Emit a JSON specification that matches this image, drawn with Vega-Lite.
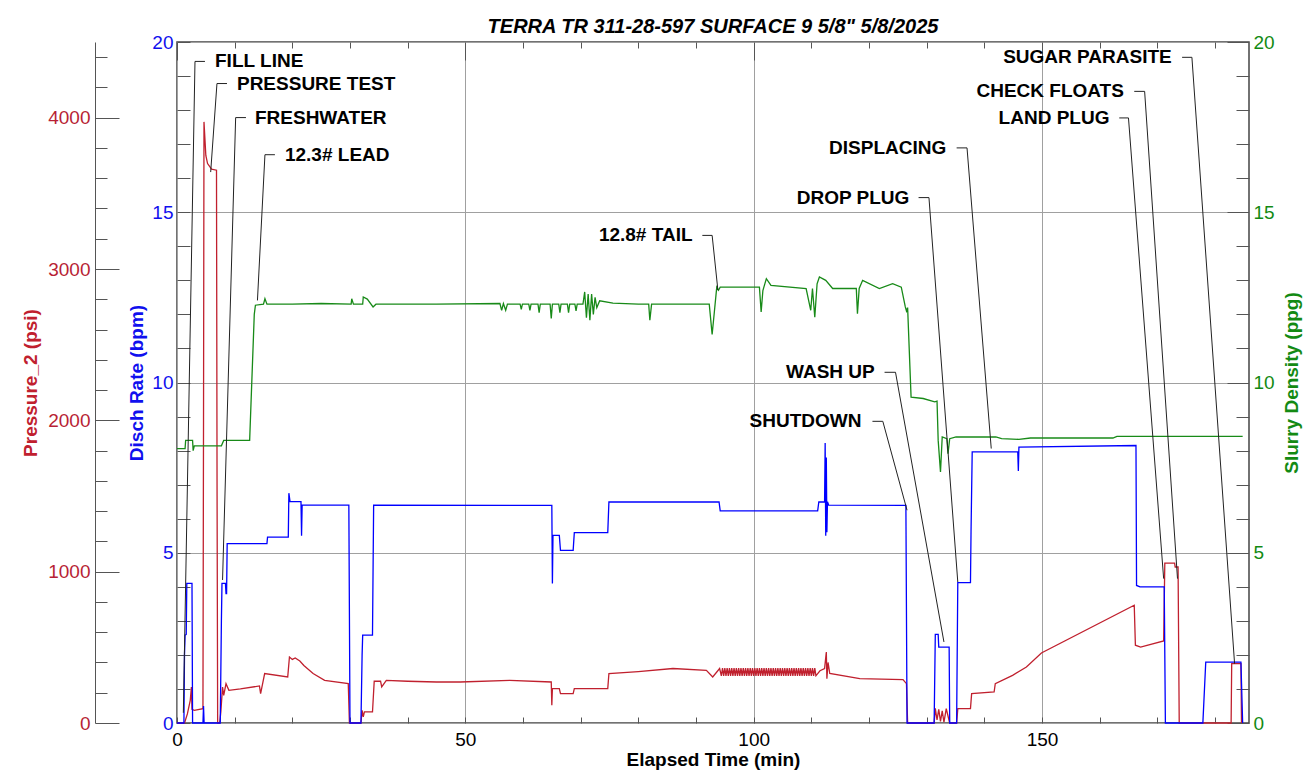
{
  "$schema": "https://vega.github.io/schema/vega-lite/v6.json",
  "description": "Cement job chart: discharge rate, pressure and slurry density against elapsed time, with event labels.",
  "autosize": {"type": "none"},
  "padding": {"left": 177, "top": 42, "right": 65, "bottom": 56},
  "width": 1072,
  "height": 681,
  "background": "white",
  "title": {
    "text": "TERRA TR 311-28-597 SURFACE 9 5/8\" 5/8/2025",
    "font": "Liberation Sans",
    "fontSize": 20,
    "fontWeight": "bold",
    "fontStyle": "italic",
    "color": "black",
    "anchor": "middle",
    "offset": -4
  },
  "config": {
    "view": {"stroke": "#444444", "strokeWidth": 1.5},
    "axis": {
      "labelFont": "Liberation Sans",
      "titleFont": "Liberation Sans",
      "labelFontSize": 19,
      "titleFontSize": 19,
      "titleFontWeight": "bold",
      "labelFlush": false,
      "labelOverlap": false,
      "domainColor": "#555555",
      "tickColor": "#555555",
      "gridColor": "#a0a0a0",
      "gridWidth": 1,
      "grid": false
    }
  },
  "datasets": {
    "host": [{"t": 0, "v": 0}],
    "rate": [
      {"t": 0, "v": 0}, {"t": 1.2, "v": 0}, {"t": 1.3, "v": 2.0}, {"t": 1.4, "v": 2.58}, {"t": 1.6, "v": 2.6},
      {"t": 1.7, "v": 4.1}, {"t": 2.6, "v": 4.1}, {"t": 2.7, "v": 0}, {"t": 4.5, "v": 0}, {"t": 4.6, "v": 0.5},
      {"t": 4.7, "v": 0}, {"t": 7.5, "v": 0}, {"t": 7.7, "v": 3.0}, {"t": 7.8, "v": 4.1}, {"t": 8.4, "v": 4.1},
      {"t": 8.5, "v": 3.8}, {"t": 8.6, "v": 3.8}, {"t": 8.7, "v": 5.27}, {"t": 15.6, "v": 5.27}, {"t": 15.7, "v": 5.46},
      {"t": 19.3, "v": 5.46}, {"t": 19.4, "v": 6.75}, {"t": 19.6, "v": 6.5}, {"t": 21.5, "v": 6.5}, {"t": 21.6, "v": 5.5},
      {"t": 21.7, "v": 6.4}, {"t": 29.8, "v": 6.4}, {"t": 30.0, "v": 0}, {"t": 31.9, "v": 0}, {"t": 32.1, "v": 2.0},
      {"t": 32.2, "v": 2.58}, {"t": 33.9, "v": 2.58}, {"t": 34.1, "v": 6.4}, {"t": 65.0, "v": 6.39}, {"t": 65.1, "v": 4.1},
      {"t": 65.2, "v": 5.51}, {"t": 66.3, "v": 5.51}, {"t": 66.5, "v": 5.07}, {"t": 68.7, "v": 5.07}, {"t": 68.9, "v": 5.59},
      {"t": 74.7, "v": 5.59}, {"t": 74.9, "v": 6.49}, {"t": 94.0, "v": 6.49}, {"t": 94.2, "v": 6.23}, {"t": 111.1, "v": 6.23},
      {"t": 111.3, "v": 6.49}, {"t": 112.3, "v": 6.49}, {"t": 112.4, "v": 8.22}, {"t": 112.5, "v": 5.5}, {"t": 112.6, "v": 7.8},
      {"t": 112.7, "v": 5.6}, {"t": 112.8, "v": 6.5}, {"t": 113.0, "v": 6.4}, {"t": 126.4, "v": 6.39}, {"t": 126.6, "v": 0},
      {"t": 131.3, "v": 0}, {"t": 131.5, "v": 2.6}, {"t": 132.0, "v": 2.6}, {"t": 132.1, "v": 2.23}, {"t": 133.9, "v": 2.23},
      {"t": 134.0, "v": 0}, {"t": 135.2, "v": 0}, {"t": 135.4, "v": 4.12}, {"t": 137.6, "v": 4.12}, {"t": 137.7, "v": 5.66},
      {"t": 137.9, "v": 7.96}, {"t": 145.8, "v": 7.96}, {"t": 145.9, "v": 7.4}, {"t": 146.0, "v": 8.1}, {"t": 166.3, "v": 8.15},
      {"t": 166.4, "v": 4.04}, {"t": 167.0, "v": 4.0}, {"t": 171.2, "v": 4.0}, {"t": 171.4, "v": 0}, {"t": 177.9, "v": 0},
      {"t": 178.4, "v": 1.79}, {"t": 184.5, "v": 1.79}, {"t": 184.8, "v": 0}
    ],
    "press": [
      {"t": 0, "p": 0}, {"t": 1.3, "p": 0}, {"t": 1.8, "p": 60}, {"t": 2.3, "p": 150}, {"t": 2.5, "p": 238},
      {"t": 2.6, "p": 90}, {"t": 3.0, "p": 84}, {"t": 4.5, "p": 95}, {"t": 4.6, "p": 2000}, {"t": 4.68, "p": 3972},
      {"t": 5.0, "p": 3750}, {"t": 5.3, "p": 3697}, {"t": 6.0, "p": 3660}, {"t": 6.85, "p": 3653}, {"t": 6.95, "p": 1500},
      {"t": 7.05, "p": 0}, {"t": 7.4, "p": 0}, {"t": 7.6, "p": 73}, {"t": 7.9, "p": 238}, {"t": 8.1, "p": 183},
      {"t": 8.5, "p": 260}, {"t": 9.0, "p": 216}, {"t": 11.0, "p": 225}, {"t": 14.3, "p": 245}, {"t": 14.5, "p": 194},
      {"t": 15.2, "p": 327}, {"t": 19.2, "p": 304}, {"t": 19.5, "p": 436}, {"t": 20.0, "p": 420}, {"t": 20.5, "p": 430},
      {"t": 21.3, "p": 410}, {"t": 22.0, "p": 380}, {"t": 23.6, "p": 327}, {"t": 25.6, "p": 282}, {"t": 29.7, "p": 260},
      {"t": 29.9, "p": 0}, {"t": 31.9, "p": 0}, {"t": 32.1, "p": 84}, {"t": 32.3, "p": 40}, {"t": 32.5, "p": 73},
      {"t": 33.9, "p": 73}, {"t": 34.2, "p": 276}, {"t": 35.3, "p": 276}, {"t": 35.5, "p": 238}, {"t": 36.3, "p": 282},
      {"t": 40, "p": 276}, {"t": 45, "p": 271}, {"t": 49.1, "p": 271}, {"t": 57.7, "p": 282}, {"t": 64.9, "p": 271},
      {"t": 65.0, "p": 117}, {"t": 65.1, "p": 227}, {"t": 66.3, "p": 227}, {"t": 66.5, "p": 194}, {"t": 68.7, "p": 194},
      {"t": 68.9, "p": 227}, {"t": 74.7, "p": 227}, {"t": 74.9, "p": 327}, {"t": 80, "p": 340}, {"t": 86.0, "p": 360},
      {"t": 91.8, "p": 348}, {"t": 92.9, "p": 304}, {"t": 94.1, "p": 360},
      {"t": 94.4, "p": 312}, {"t": 94.6, "p": 362}, {"t": 94.8, "p": 312}, {"t": 95.0, "p": 362}, {"t": 95.2, "p": 312},
      {"t": 95.4, "p": 362}, {"t": 95.6, "p": 312}, {"t": 95.8, "p": 362}, {"t": 96.0, "p": 312}, {"t": 96.2, "p": 362},
      {"t": 96.4, "p": 312}, {"t": 96.6, "p": 362}, {"t": 96.8, "p": 312}, {"t": 97.0, "p": 362}, {"t": 97.2, "p": 312},
      {"t": 97.4, "p": 362}, {"t": 97.6, "p": 312}, {"t": 97.8, "p": 362}, {"t": 98.0, "p": 312}, {"t": 98.2, "p": 362},
      {"t": 98.4, "p": 312}, {"t": 98.6, "p": 362}, {"t": 98.8, "p": 312}, {"t": 99.0, "p": 362}, {"t": 99.2, "p": 312},
      {"t": 99.4, "p": 362}, {"t": 99.6, "p": 312}, {"t": 99.8, "p": 362}, {"t": 100.0, "p": 312}, {"t": 100.2, "p": 362},
      {"t": 100.4, "p": 312}, {"t": 100.6, "p": 362}, {"t": 100.8, "p": 312}, {"t": 101.0, "p": 362}, {"t": 101.2, "p": 312},
      {"t": 101.4, "p": 362}, {"t": 101.6, "p": 312}, {"t": 101.8, "p": 362}, {"t": 102.0, "p": 312}, {"t": 102.2, "p": 362},
      {"t": 102.4, "p": 312}, {"t": 102.6, "p": 362}, {"t": 102.8, "p": 312}, {"t": 103.0, "p": 362}, {"t": 103.2, "p": 312},
      {"t": 103.4, "p": 362}, {"t": 103.6, "p": 312}, {"t": 103.8, "p": 362}, {"t": 104.0, "p": 312}, {"t": 104.2, "p": 362},
      {"t": 104.4, "p": 312}, {"t": 104.6, "p": 362}, {"t": 104.8, "p": 312}, {"t": 105.0, "p": 362}, {"t": 105.2, "p": 312},
      {"t": 105.4, "p": 362}, {"t": 105.6, "p": 312}, {"t": 105.8, "p": 362}, {"t": 106.0, "p": 312}, {"t": 106.2, "p": 362},
      {"t": 106.4, "p": 312}, {"t": 106.6, "p": 362}, {"t": 106.8, "p": 312}, {"t": 107.0, "p": 362}, {"t": 107.2, "p": 312},
      {"t": 107.4, "p": 362}, {"t": 107.6, "p": 312}, {"t": 107.8, "p": 362}, {"t": 108.0, "p": 312}, {"t": 108.2, "p": 362},
      {"t": 108.4, "p": 312}, {"t": 108.6, "p": 362}, {"t": 108.8, "p": 312}, {"t": 109.0, "p": 362}, {"t": 109.2, "p": 312},
      {"t": 109.4, "p": 362}, {"t": 109.6, "p": 312}, {"t": 109.8, "p": 362}, {"t": 110.0, "p": 312}, {"t": 110.2, "p": 362},
      {"t": 110.4, "p": 312}, {"t": 110.6, "p": 362}, {"t": 110.8, "p": 312},
      {"t": 111.5, "p": 345}, {"t": 112.3, "p": 360}, {"t": 112.6, "p": 469}, {"t": 112.7, "p": 293}, {"t": 112.9, "p": 400},
      {"t": 113.2, "p": 327}, {"t": 118.4, "p": 293}, {"t": 125.9, "p": 287}, {"t": 126.5, "p": 260}, {"t": 126.7, "p": 0},
      {"t": 131.3, "p": 0}, {"t": 131.5, "p": 97}, {"t": 131.8, "p": 20}, {"t": 132.1, "p": 90}, {"t": 132.4, "p": 10},
      {"t": 132.7, "p": 80}, {"t": 133.0, "p": 5}, {"t": 133.4, "p": 95}, {"t": 133.9, "p": 15}, {"t": 134.0, "p": 0},
      {"t": 135.2, "p": 0}, {"t": 135.4, "p": 95}, {"t": 137.6, "p": 95}, {"t": 137.8, "p": 194}, {"t": 141.7, "p": 205},
      {"t": 141.9, "p": 260}, {"t": 144.9, "p": 315}, {"t": 147.3, "p": 370}, {"t": 149.9, "p": 463}, {"t": 166.0, "p": 778},
      {"t": 166.2, "p": 514}, {"t": 167.1, "p": 502}, {"t": 171.1, "p": 542}, {"t": 171.3, "p": 1057}, {"t": 173.0, "p": 1057},
      {"t": 173.1, "p": 1031}, {"t": 173.6, "p": 1031}, {"t": 173.8, "p": 0}, {"t": 182.8, "p": 0}, {"t": 182.9, "p": 392},
      {"t": 184.5, "p": 392}, {"t": 184.6, "p": 0}
    ],
    "dens": [
      {"t": 0, "v": 8.06}, {"t": 1.4, "v": 8.06}, {"t": 1.5, "v": 8.3}, {"t": 2.7, "v": 8.3}, {"t": 2.8, "v": 8.0},
      {"t": 3.0, "v": 8.14}, {"t": 7.7, "v": 8.14}, {"t": 8.1, "v": 8.3}, {"t": 12.6, "v": 8.3}, {"t": 13.4, "v": 12.0},
      {"t": 13.6, "v": 12.27}, {"t": 15.0, "v": 12.3}, {"t": 15.25, "v": 12.46}, {"t": 15.6, "v": 12.3}, {"t": 20, "v": 12.3},
      {"t": 25, "v": 12.32}, {"t": 30.2, "v": 12.3}, {"t": 30.3, "v": 12.46}, {"t": 30.6, "v": 12.3}, {"t": 32.2, "v": 12.3},
      {"t": 32.3, "v": 12.51}, {"t": 33.0, "v": 12.45}, {"t": 34.0, "v": 12.22}, {"t": 34.5, "v": 12.3}, {"t": 45, "v": 12.3},
      {"t": 56, "v": 12.32}, {"t": 56.3, "v": 12.12}, {"t": 56.6, "v": 12.32}, {"t": 57, "v": 12.12}, {"t": 57.3, "v": 12.3},
      {"t": 59.5, "v": 12.3}, {"t": 59.7, "v": 12.15}, {"t": 59.9, "v": 12.3}, {"t": 61.0, "v": 12.3}, {"t": 61.2, "v": 12.12},
      {"t": 61.4, "v": 12.3}, {"t": 62.6, "v": 12.3}, {"t": 62.8, "v": 12.05}, {"t": 63.0, "v": 12.3}, {"t": 64.7, "v": 12.3},
      {"t": 64.9, "v": 11.88}, {"t": 65.1, "v": 12.3}, {"t": 66.2, "v": 12.3}, {"t": 66.4, "v": 12.05}, {"t": 66.6, "v": 12.3},
      {"t": 67.7, "v": 12.3}, {"t": 67.9, "v": 12.05}, {"t": 68.1, "v": 12.3}, {"t": 69.0, "v": 12.3}, {"t": 69.2, "v": 12.1},
      {"t": 69.4, "v": 12.3}, {"t": 70.4, "v": 12.3}, {"t": 70.7, "v": 12.66}, {"t": 71.0, "v": 11.9}, {"t": 71.3, "v": 12.6},
      {"t": 71.6, "v": 11.83}, {"t": 71.9, "v": 12.6}, {"t": 72.2, "v": 12.0}, {"t": 72.5, "v": 12.5}, {"t": 72.8, "v": 12.2},
      {"t": 73.3, "v": 12.4}, {"t": 75.6, "v": 12.33}, {"t": 80, "v": 12.3}, {"t": 81.8, "v": 12.3}, {"t": 82.0, "v": 11.83},
      {"t": 82.3, "v": 12.3}, {"t": 92.3, "v": 12.3}, {"t": 92.8, "v": 11.41}, {"t": 93.2, "v": 12.1}, {"t": 93.6, "v": 12.8},
      {"t": 93.9, "v": 12.71}, {"t": 94.2, "v": 12.8}, {"t": 101.0, "v": 12.8}, {"t": 101.3, "v": 12.07}, {"t": 101.6, "v": 12.7},
      {"t": 102.2, "v": 13.05}, {"t": 103, "v": 12.85}, {"t": 109.1, "v": 12.76}, {"t": 109.9, "v": 12.12}, {"t": 110.2, "v": 12.76},
      {"t": 110.6, "v": 11.92}, {"t": 111.0, "v": 12.9}, {"t": 111.4, "v": 13.1}, {"t": 112.5, "v": 13.0}, {"t": 113.7, "v": 12.76},
      {"t": 117.8, "v": 12.76}, {"t": 118.0, "v": 12.02}, {"t": 118.3, "v": 12.76}, {"t": 118.9, "v": 13.0}, {"t": 121.8, "v": 12.76},
      {"t": 124.1, "v": 12.9}, {"t": 125.6, "v": 12.8}, {"t": 126.3, "v": 12.22}, {"t": 126.5, "v": 12.1}, {"t": 126.7, "v": 12.2},
      {"t": 127.3, "v": 9.57}, {"t": 129.4, "v": 9.53}, {"t": 131.4, "v": 9.43}, {"t": 131.8, "v": 9.45}, {"t": 132.0, "v": 8.3},
      {"t": 132.4, "v": 7.37}, {"t": 132.7, "v": 8.4}, {"t": 133.5, "v": 8.35}, {"t": 133.7, "v": 7.91}, {"t": 134.0, "v": 8.35},
      {"t": 135.1, "v": 8.4}, {"t": 142, "v": 8.4}, {"t": 143, "v": 8.35}, {"t": 146, "v": 8.33}, {"t": 148, "v": 8.37},
      {"t": 162.3, "v": 8.37}, {"t": 163, "v": 8.42}, {"t": 184.8, "v": 8.42}
    ],
    "leaders": [
      {"label": "FILL LINE", "o": 1, "t": 4.85, "v": 19.43}, {"label": "FILL LINE", "o": 2, "t": 3.12, "v": 19.43}, {"label": "FILL LINE", "o": 3, "t": 1.1, "v": 0.3},
      {"label": "PRESSURE TEST", "o": 1, "t": 8.67, "v": 18.78}, {"label": "PRESSURE TEST", "o": 2, "t": 6.93, "v": 18.78}, {"label": "PRESSURE TEST", "o": 3, "t": 5.84, "v": 16.18},
      {"label": "FRESHWATER", "o": 1, "t": 11.96, "v": 17.78}, {"label": "FRESHWATER", "o": 2, "t": 10.17, "v": 17.78}, {"label": "FRESHWATER", "o": 3, "t": 7.9, "v": 4.2},
      {"label": "12.3# LEAD", "o": 1, "t": 16.98, "v": 16.69}, {"label": "12.3# LEAD", "o": 2, "t": 15.25, "v": 16.69}, {"label": "12.3# LEAD", "o": 3, "t": 13.95, "v": 12.41},
      {"label": "12.8# TAIL", "o": 1, "t": 91.1, "v": 14.32}, {"label": "12.8# TAIL", "o": 2, "t": 92.8, "v": 14.32}, {"label": "12.8# TAIL", "o": 3, "t": 93.8, "v": 12.71},
      {"label": "SHUTDOWN", "o": 1, "t": 120.6, "v": 8.86}, {"label": "SHUTDOWN", "o": 2, "t": 122.4, "v": 8.86}, {"label": "SHUTDOWN", "o": 3, "t": 126.6, "v": 6.25},
      {"label": "WASH UP", "o": 1, "t": 122.7, "v": 10.3}, {"label": "WASH UP", "o": 2, "t": 124.6, "v": 10.3}, {"label": "WASH UP", "o": 3, "t": 133.0, "v": 2.38},
      {"label": "DROP PLUG", "o": 1, "t": 128.6, "v": 15.43}, {"label": "DROP PLUG", "o": 2, "t": 130.4, "v": 15.43}, {"label": "DROP PLUG", "o": 3, "t": 135.4, "v": 4.14},
      {"label": "DISPLACING", "o": 1, "t": 135.2, "v": 16.89}, {"label": "DISPLACING", "o": 2, "t": 137.0, "v": 16.89}, {"label": "DISPLACING", "o": 3, "t": 141.2, "v": 8.06},
      {"label": "LAND PLUG", "o": 1, "t": 163.4, "v": 17.77}, {"label": "LAND PLUG", "o": 2, "t": 165.0, "v": 17.77}, {"label": "LAND PLUG", "o": 3, "t": 171.1, "v": 4.24},
      {"label": "CHECK FLOATS", "o": 1, "t": 166.0, "v": 18.55}, {"label": "CHECK FLOATS", "o": 2, "t": 167.8, "v": 18.55}, {"label": "CHECK FLOATS", "o": 3, "t": 173.5, "v": 4.24},
      {"label": "SUGAR PARASITE", "o": 1, "t": 174.3, "v": 19.55}, {"label": "SUGAR PARASITE", "o": 2, "t": 176.0, "v": 19.55}, {"label": "SUGAR PARASITE", "o": 3, "t": 183.4, "v": 1.74}
    ],
    "events": [
      {"label": "FILL LINE", "t": 6.59, "v": 19.43},
      {"label": "PRESSURE TEST", "t": 10.4, "v": 18.78},
      {"label": "FRESHWATER", "t": 13.52, "v": 17.78},
      {"label": "12.3# LEAD", "t": 18.72, "v": 16.69},
      {"label": "12.8# TAIL", "t": 89.4, "v": 14.32},
      {"label": "SHUTDOWN", "t": 118.7, "v": 8.86},
      {"label": "WASH UP", "t": 121.0, "v": 10.3},
      {"label": "DROP PLUG", "t": 127.0, "v": 15.43},
      {"label": "DISPLACING", "t": 133.4, "v": 16.89},
      {"label": "LAND PLUG", "t": 161.7, "v": 17.77},
      {"label": "CHECK FLOATS", "t": 164.2, "v": 18.55},
      {"label": "SUGAR PARASITE", "t": 172.5, "v": 19.55}
    ]
  },
  "layer": [
    {
      "data": {"name": "press"},
      "mark": {"type": "line", "color": "#c0202e", "strokeWidth": 1.3},
      "encoding": {
        "x": {"field": "t", "type": "quantitative", "scale": {"domain": [0, 185.9], "nice": false, "zero": false}, "axis": null},
        "y": {
          "field": "p", "type": "quantitative",
          "scale": {"domain": [0, 4500], "nice": false},
          "axis": {
            "orient": "left", "offset": 82, "values": [0, 1000, 2000, 3000, 4000], "format": "d",
            "ticks": false, "domain": true, "labelColor": "#b81f35", "labelPadding": 5,
            "title": "Pressure_2 (psi)", "titleColor": "#c0202e", "titlePadding": 7
          }
        }
      }
    },
    {
      "data": {"name": "host"},
      "mark": {"type": "point", "opacity": 0},
      "encoding": {
        "x": {"field": "t", "type": "quantitative", "scale": {"domain": [0, 185.9], "nice": false, "zero": false}, "axis": null},
        "y": {
          "field": "v", "type": "quantitative",
          "scale": {"domain": [0, 4500], "nice": false},
          "axis": {
            "orient": "left", "offset": 82,
            "values": [0, 200, 400, 600, 800, 1000, 1200, 1400, 1600, 1800, 2000, 2200, 2400, 2600, 2800, 3000, 3200, 3400, 3600, 3800, 4000, 4200, 4400],
            "labels": false, "domain": false, "title": null,
            "tickSize": {"condition": {"test": "datum.value % 1000 === 0", "value": -24}, "value": -12}
          }
        }
      }
    },
    {
      "data": {"name": "rate"},
      "mark": {"type": "line", "color": "#0000ff", "strokeWidth": 1.3},
      "encoding": {
        "x": {
          "field": "t", "type": "quantitative",
          "scale": {"domain": [0, 185.9], "nice": false, "zero": false},
          "axis": {
            "orient": "bottom", "values": [0, 50, 100, 150], "ticks": false, "domain": false,
            "grid": true, "labelPadding": 7, "labelColor": "black",
            "title": "Elapsed Time (min)", "titleColor": "black", "titlePadding": 1
          }
        },
        "y": {
          "field": "v", "type": "quantitative",
          "scale": {"domain": [0, 20], "nice": false},
          "axis": {
            "orient": "left", "values": [0, 5, 10, 15, 20], "ticks": false, "domain": false,
            "grid": true, "labelColor": "#1010ee", "labelPadding": 4,
            "title": "Disch Rate (bpm)", "titleColor": "#1010ee", "titlePadding": 5
          }
        }
      }
    },
    {
      "data": {"name": "host"},
      "mark": {"type": "point", "opacity": 0},
      "encoding": {
        "x": {
          "field": "t", "type": "quantitative",
          "scale": {"domain": [0, 185.9], "nice": false, "zero": false},
          "axis": {
            "orient": "bottom", "values": [0, 10, 20, 30, 40, 50, 60, 70, 80, 90, 100, 110, 120, 130, 140, 150, 160, 170, 180],
            "tickSize": -6, "labels": false, "domain": false, "title": null
          }
        },
        "y": {
          "field": "v", "type": "quantitative",
          "scale": {"domain": [0, 20], "nice": false},
          "axis": {
            "orient": "left", "values": [0, 1, 2, 3, 4, 5, 6, 7, 8, 9, 10, 11, 12, 13, 14, 15, 16, 17, 18, 19, 20],
            "tickSize": -13, "labels": false, "domain": false, "title": null
          }
        }
      }
    },
    {
      "data": {"name": "dens"},
      "mark": {"type": "line", "color": "#188a18", "strokeWidth": 1.3},
      "encoding": {
        "x": {
          "field": "t", "type": "quantitative",
          "scale": {"domain": [0, 185.9], "nice": false, "zero": false},
          "axis": {
            "orient": "top", "values": [0, 10, 20, 30, 40, 50, 60, 70, 80, 90, 100, 110, 120, 130, 140, 150, 160, 170, 180],
            "tickSize": {"condition": {"test": "datum.value % 50 === 0", "value": -18}, "value": -6},
            "labels": false, "domain": false, "title": null
          }
        },
        "y": {
          "field": "v", "type": "quantitative",
          "scale": {"domain": [0, 20], "nice": false},
          "axis": {
            "orient": "right", "values": [0, 5, 10, 15, 20], "ticks": false, "domain": false,
            "labelColor": "#138a13", "labelPadding": 4,
            "title": "Slurry Density (ppg)", "titleColor": "#138a13", "titlePadding": 8,
            "titleAngle": 270, "titleBaseline": "top"
          }
        }
      }
    },
    {
      "data": {"name": "host"},
      "mark": {"type": "point", "opacity": 0},
      "encoding": {
        "x": {"field": "t", "type": "quantitative", "scale": {"domain": [0, 185.9], "nice": false, "zero": false}, "axis": null},
        "y": {
          "field": "v", "type": "quantitative",
          "scale": {"domain": [0, 20], "nice": false},
          "axis": {
            "orient": "right", "values": [0, 1, 2, 3, 4, 5, 6, 7, 8, 9, 10, 11, 12, 13, 14, 15, 16, 17, 18, 19, 20],
            "tickSize": {"condition": {"test": "datum.value % 5 === 0", "value": -22}, "value": -13},
            "labels": false, "domain": false, "title": null
          }
        }
      }
    },
    {
      "data": {"name": "leaders"},
      "mark": {"type": "line", "color": "#222222", "strokeWidth": 1},
      "encoding": {
        "x": {"field": "t", "type": "quantitative", "scale": {"domain": [0, 185.9], "nice": false, "zero": false}, "axis": null},
        "y": {"field": "v", "type": "quantitative", "scale": {"domain": [0, 20], "nice": false}, "axis": null},
        "detail": {"field": "label"},
        "order": {"field": "o", "type": "quantitative"}
      }
    },
    {
      "data": {"name": "events"},
      "transform": [{"filter": "datum.t < 50"}],
      "mark": {"type": "text", "align": "left", "baseline": "middle", "font": "Liberation Sans", "fontSize": 19, "fontWeight": "bold", "color": "black"},
      "encoding": {
        "x": {"field": "t", "type": "quantitative", "scale": {"domain": [0, 185.9], "nice": false, "zero": false}, "axis": null},
        "y": {"field": "v", "type": "quantitative", "scale": {"domain": [0, 20], "nice": false}, "axis": null},
        "text": {"field": "label"}
      }
    },
    {
      "data": {"name": "events"},
      "transform": [{"filter": "datum.t >= 50"}],
      "mark": {"type": "text", "align": "right", "baseline": "middle", "font": "Liberation Sans", "fontSize": 19, "fontWeight": "bold", "color": "black"},
      "encoding": {
        "x": {"field": "t", "type": "quantitative", "scale": {"domain": [0, 185.9], "nice": false, "zero": false}, "axis": null},
        "y": {"field": "v", "type": "quantitative", "scale": {"domain": [0, 20], "nice": false}, "axis": null},
        "text": {"field": "label"}
      }
    }
  ],
  "resolve": {
    "scale": {"y": "independent"},
    "axis": {"x": "independent", "y": "independent"}
  }
}
